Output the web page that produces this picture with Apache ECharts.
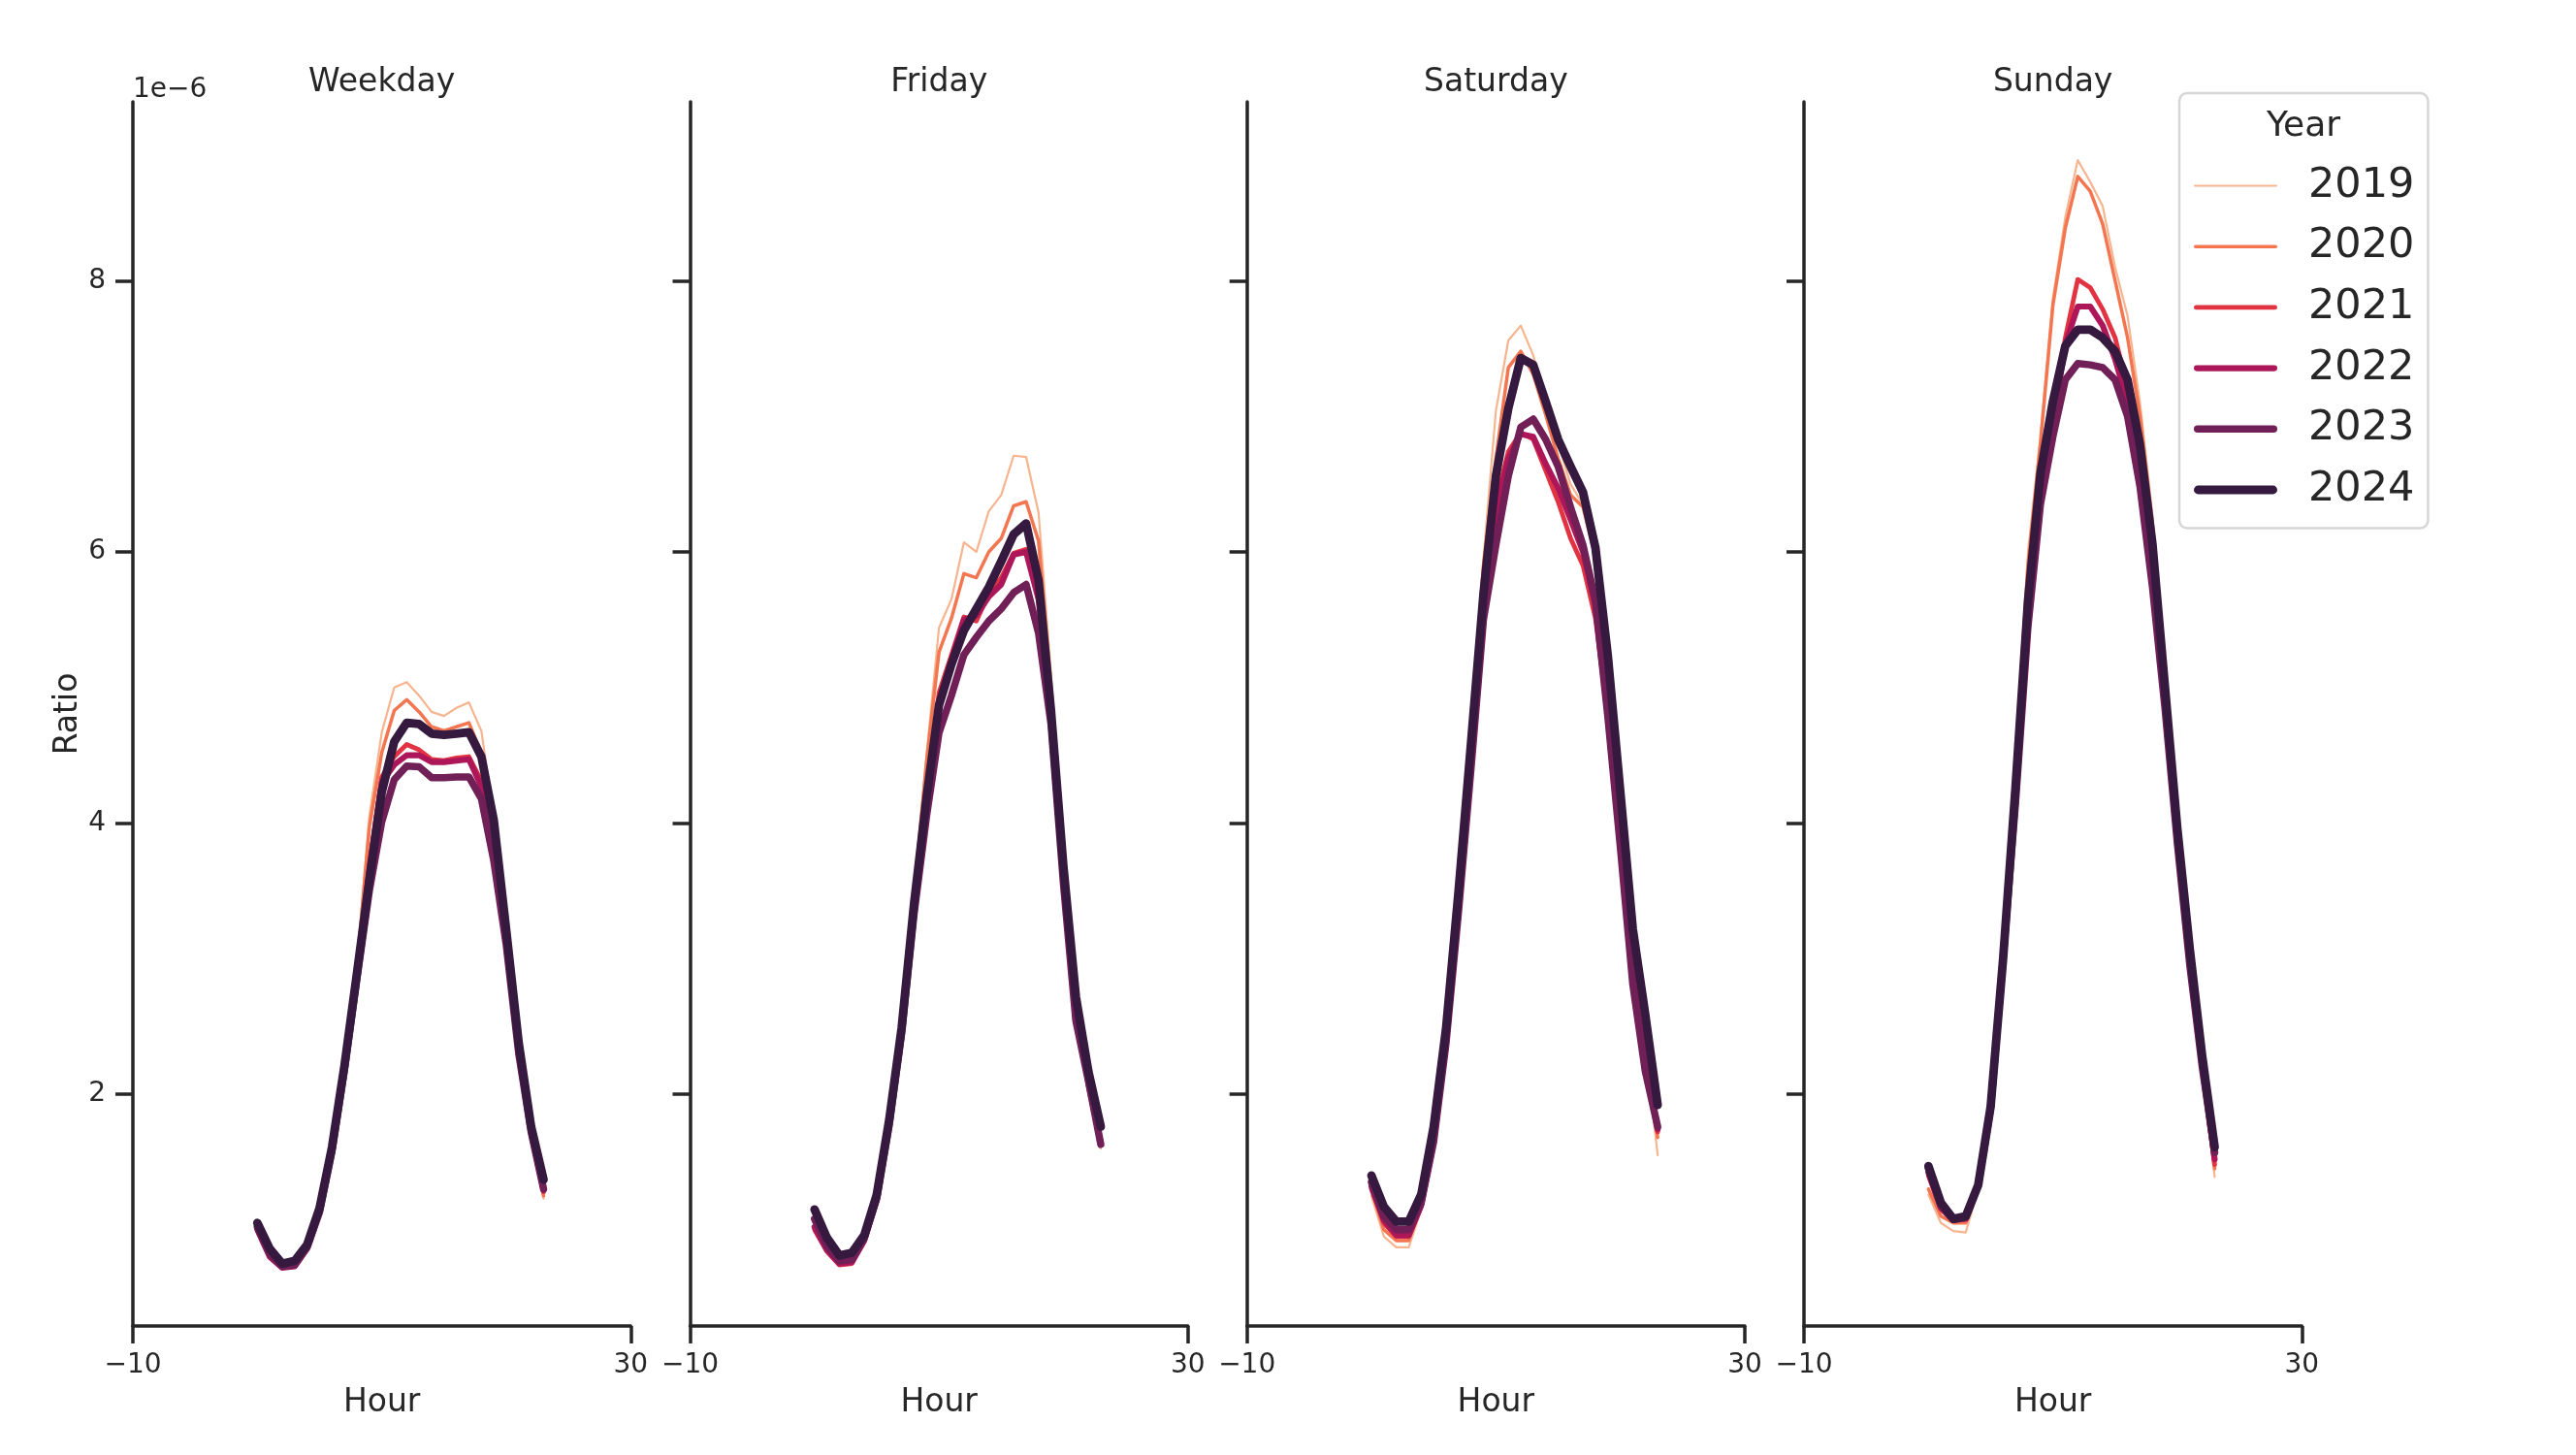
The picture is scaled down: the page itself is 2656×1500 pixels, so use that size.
<!DOCTYPE html>
<html>
<head>
<meta charset="utf-8">
<script src="https://cdn.jsdelivr.net/npm/echarts@6/dist/echarts.min.js"></script>
<style>
html,body{margin:0;padding:0;background:#fff;}
#chart{width:2656px;height:1500px;}
</style>
</head>
<body>
<div id="chart"></div>
<script>
// ---- data (Ratio values in units of 1e-6) ----
const hours = [0,1,2,3,4,5,6,7,8,9,10,11,12,13,14,15,16,17,18,19,20,21,22,23];
const years = ['2019','2020','2021','2022','2023','2024'];
const panels = ['Weekday','Friday','Saturday','Sunday'];
const xTicks = [-10, 30];
const yTicks = [2, 4, 6, 8];

const weekday2019 = [1.00,0.80,0.71,0.72,0.86,1.12,1.60,2.22,2.95,4.05,4.67,5.00,5.04,4.94,4.82,4.79,4.85,4.89,4.68,4.05,3.10,2.25,1.65,1.23];
const weekday2020 = [1.00,0.80,0.72,0.73,0.86,1.13,1.60,2.22,2.93,3.97,4.52,4.83,4.91,4.82,4.71,4.68,4.71,4.74,4.52,4.05,3.12,2.28,1.68,1.25];
const weekday2021 = [1.00,0.80,0.72,0.73,0.86,1.13,1.60,2.20,2.88,3.70,4.34,4.49,4.58,4.54,4.47,4.46,4.48,4.49,4.31,3.95,3.12,2.28,1.70,1.28];
const weekday2022 = [1.00,0.80,0.72,0.73,0.86,1.13,1.60,2.20,2.88,3.65,4.30,4.43,4.50,4.50,4.45,4.45,4.46,4.47,4.27,3.90,3.12,2.30,1.72,1.30];
const weekday2023 = [1.02,0.82,0.73,0.74,0.87,1.13,1.58,2.18,2.85,3.50,4.01,4.32,4.42,4.415,4.335,4.335,4.34,4.34,4.18,3.72,3.10,2.30,1.72,1.30];
const weekday2024 = [1.05,0.86,0.75,0.77,0.89,1.16,1.61,2.21,2.89,3.58,4.23,4.60,4.74,4.73,4.66,4.65,4.66,4.67,4.49,4.02,3.21,2.38,1.76,1.37];

const friday2019 = [1.05,0.86,0.76,0.77,0.93,1.24,1.81,2.52,3.50,4.50,5.44,5.65,6.07,6.00,6.30,6.42,6.71,6.70,6.29,5.10,3.80,2.75,2.10,1.60];
const friday2020 = [1.05,0.86,0.76,0.77,0.93,1.24,1.81,2.52,3.48,4.45,5.26,5.51,5.84,5.81,6.00,6.10,6.34,6.37,6.08,5.00,3.75,2.72,2.10,1.62];
const friday2021 = [1.00,0.84,0.74,0.75,0.92,1.22,1.78,2.48,3.40,4.20,4.96,5.24,5.52,5.49,5.69,5.81,5.99,6.02,5.69,4.85,3.65,2.68,2.10,1.65];
const friday2022 = [1.02,0.85,0.75,0.76,0.92,1.22,1.78,2.47,3.38,4.15,4.90,5.20,5.50,5.53,5.67,5.76,5.98,6.00,5.65,4.80,3.60,2.65,2.08,1.64];
const friday2023 = [1.08,0.88,0.77,0.78,0.94,1.23,1.77,2.45,3.33,4.05,4.665,4.94,5.24,5.37,5.49,5.58,5.70,5.76,5.40,4.73,3.55,2.54,2.10,1.63];
const friday2024 = [1.15,0.94,0.81,0.83,0.96,1.26,1.81,2.49,3.41,4.19,4.87,5.17,5.42,5.58,5.74,5.93,6.13,6.21,5.79,4.83,3.68,2.72,2.17,1.76];

const saturday2019 = [1.25,0.95,0.87,0.87,1.15,1.70,2.50,3.55,4.70,5.95,7.04,7.56,7.67,7.45,7.10,6.80,6.50,6.35,5.95,5.10,4.05,3.05,2.35,1.55];
const saturday2020 = [1.30,1.00,0.92,0.92,1.17,1.72,2.50,3.55,4.68,5.90,6.69,7.36,7.48,7.31,7.01,6.69,6.42,6.33,5.96,5.15,4.10,3.10,2.40,1.68];
const saturday2021 = [1.30,1.05,0.95,0.95,1.17,1.65,2.40,3.40,4.50,5.60,6.37,6.74,6.88,6.83,6.60,6.37,6.10,5.90,5.51,4.78,3.85,2.90,2.30,1.72];
const saturday2022 = [1.32,1.07,0.96,0.96,1.18,1.65,2.38,3.38,4.45,5.55,6.30,6.69,6.87,6.85,6.65,6.47,6.24,6.00,5.60,4.80,3.85,2.85,2.25,1.74];
const saturday2023 = [1.35,1.10,1.00,1.00,1.20,1.65,2.38,3.35,4.40,5.50,6.05,6.56,6.92,6.98,6.83,6.63,6.33,6.05,5.64,4.78,3.82,2.81,2.17,1.76];
const saturday2024 = [1.40,1.17,1.06,1.06,1.26,1.76,2.49,3.50,4.59,5.69,6.56,7.06,7.43,7.38,7.11,6.83,6.63,6.44,6.03,5.23,4.23,3.22,2.59,1.92];

const sunday2019 = [1.26,1.05,0.99,0.98,1.30,1.95,3.20,4.50,6.00,6.85,7.87,8.47,8.89,8.73,8.55,8.10,7.74,7.10,6.27,5.05,3.90,2.95,2.15,1.39];
const sunday2020 = [1.30,1.10,1.05,1.05,1.30,1.95,3.15,4.45,5.90,6.80,7.82,8.39,8.77,8.66,8.42,8.00,7.58,7.00,6.20,5.05,3.95,3.00,2.20,1.45];
const sunday2021 = [1.40,1.15,1.07,1.08,1.33,1.92,3.05,4.25,5.60,6.50,7.00,7.58,8.01,7.95,7.79,7.58,7.21,6.70,5.95,4.90,3.85,2.95,2.20,1.48];
const sunday2022 = [1.42,1.16,1.07,1.08,1.33,1.92,3.03,4.22,5.55,6.45,6.95,7.53,7.81,7.81,7.67,7.42,7.11,6.65,5.90,4.88,3.85,2.95,2.20,1.52];
const sunday2023 = [1.45,1.18,1.08,1.09,1.33,1.90,3.00,4.15,5.45,6.35,6.85,7.27,7.39,7.38,7.36,7.27,7.00,6.48,5.74,4.85,3.85,2.95,2.20,1.57];
const sunday2024 = [1.47,1.20,1.08,1.10,1.33,1.91,3.00,4.27,5.64,6.58,7.11,7.52,7.64,7.64,7.58,7.48,7.27,6.79,6.06,5.01,3.96,3.07,2.28,1.61];

const panelData = [
  [weekday2019, weekday2020, weekday2021, weekday2022, weekday2023, weekday2024],
  [friday2019, friday2020, friday2021, friday2022, friday2023, friday2024],
  [saturday2019, saturday2020, saturday2021, saturday2022, saturday2023, saturday2024],
  [sunday2019, sunday2020, sunday2021, sunday2022, sunday2023, sunday2024]
];

// ---- styles ----
const yearColors = ['#f6b48f','#f37651','#e13342','#ad1759','#701f57','#35193e'];
const yearWidths = [2.2, 3.5, 4.8, 6.1, 7.5, 8.8];
const INK = '#262626';
const FONT = 'DejaVu Sans';
const gridLefts = [137, 711.5, 1285.7, 1860];
const gridW = 513.3, gridTop = 105, gridH = 1262;

const fmtNum = v => (v < 0 ? '\u2212' + Math.abs(v) : String(v));

const chart = echarts.init(document.getElementById('chart'), null, {renderer: 'canvas'});

const grids = [], xAxes = [], yAxes = [], series = [], titles = [];
panels.forEach((p, i) => {
  grids.push({left: gridLefts[i], top: gridTop, width: gridW, height: gridH, containLabel: false});
  xAxes.push({
    type: 'value', gridIndex: i, min: -10, max: 30,
    name: 'Hour', nameLocation: 'middle', nameGap: 62.5,
    nameTextStyle: {fontFamily: FONT, fontSize: 33, color: INK},
    axisLine: {show: true, onZero: false, lineStyle: {color: INK, width: 3.5}},
    axisTick: {show: true, length: 18, inside: false, lineStyle: {color: INK, width: 3.5}, customValues: xTicks},
    axisLabel: {show: true, margin: 27, fontFamily: FONT, fontSize: 28, color: INK, formatter: fmtNum, customValues: xTicks},
    splitLine: {show: false}
  });
  yAxes.push({
    type: 'value', gridIndex: i, min: 0.29, max: 9.32,
    name: i === 0 ? 'Ratio' : '', nameLocation: 'middle', nameGap: 50,
    nameTextStyle: {fontFamily: FONT, fontSize: 33, color: INK},
    axisLine: {show: true, onZero: false, lineStyle: {color: INK, width: 3.5}},
    axisTick: {show: true, length: 18, inside: false, lineStyle: {color: INK, width: 3.5}, customValues: yTicks},
    axisLabel: {show: i === 0, margin: 28, fontFamily: FONT, fontSize: 28, color: INK, customValues: yTicks},
    splitLine: {show: false}
  });
  titles.push({
    text: p, left: gridLefts[i] + gridW / 2, top: 69, textAlign: 'center', padding: 0,
    textStyle: {fontFamily: FONT, fontSize: 33, fontWeight: 'normal', color: INK}
  });
  years.forEach((y, k) => {
    series.push({
      name: y, type: 'line', xAxisIndex: i, yAxisIndex: i,
      symbol: 'none', showSymbol: false, smooth: false, animation: false,
      color: yearColors[k],
      lineStyle: {color: yearColors[k], width: yearWidths[k], cap: 'round', join: 'round'},
      z: 2 + k,
      data: hours.map((h, j) => [h, panelData[i][k][j]])
    });
  });
});

titles.push({text: '1e\u22126', left: 137, top: 79, padding: 0,
  textStyle: {fontFamily: FONT, fontSize: 28, fontWeight: 'normal', color: INK}});
titles.push({text: 'Year', left: 2375, top: 113, textAlign: 'center', padding: 0,
  textStyle: {fontFamily: FONT, fontSize: 36, fontWeight: 'normal', color: INK}});

function legendIcon(w) {
  const r = w / 2;
  return 'path://M' + r + ',0H' + (86 - r) + 'A' + r + ',' + r + ' 0 0 1 ' + (86 - r) + ',' + w +
         'H' + r + 'A' + r + ',' + r + ' 0 0 1 ' + r + ',0Z';
}

chart.setOption({
  backgroundColor: '#ffffff',
  animation: false,
  title: titles,
  grid: grids,
  xAxis: xAxes,
  yAxis: yAxes,
  legend: {
    orient: 'vertical', left: 2247, top: 96,
    padding: [74, 14, 18, 15],
    itemWidth: 86, itemHeight: 44, itemGap: 19.7,
    symbolKeepAspect: true,
    selectedMode: false,
    backgroundColor: '#ffffff',
    borderColor: '#d6d6d6', borderWidth: 2.5, borderRadius: 8,
    itemStyle: {borderWidth: 0},
    formatter: n => '{t|' + n + '}',
    textStyle: {
      fontFamily: FONT, fontSize: 43, color: INK,
      rich: {t: {fontFamily: FONT, fontSize: 43, color: INK, lineHeight: 44, padding: [0, 0, 0, 27]}}
    },
    data: years.map((y, k) => ({name: y, icon: legendIcon(yearWidths[k]), itemStyle: {color: yearColors[k], borderWidth: 0}}))
  },
  series: series
});
</script>
</body>
</html>
